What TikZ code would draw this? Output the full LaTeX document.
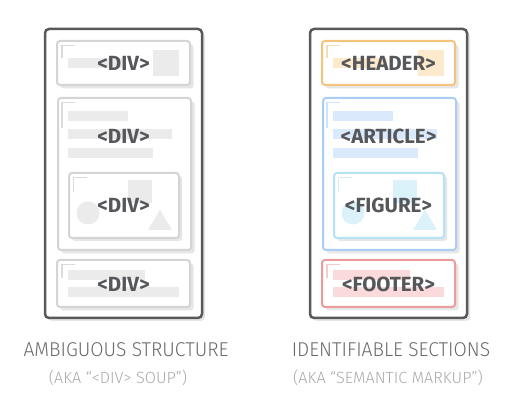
\documentclass[tikz,border=0pt]{standalone}
\usepackage{fontspec}
\setmainfont{Fira Sans}
\newfontfamily\capfont{Fira Sans Light}[FakeStretch=0.96]
\newfontfamily\subfont{Fira Sans Light}
\definecolor{outerc}{HTML}{58595B}
\definecolor{shadowc}{HTML}{E6E6E6}
\definecolor{labelc}{HTML}{55575A}
\definecolor{titlec}{HTML}{6A6A6A}
\definecolor{subc}{HTML}{AAAAAA}
\tikzset{
  outerbox/.style={draw=outerc, line width=2.5pt, fill=white, rounded corners=4pt},
  innerbox/.style={draw=#1, line width=2pt, fill=white, rounded corners=3pt},
  shadowbox/.style={fill=shadowc, rounded corners=3pt},
  cmark/.style={draw=#1, line width=1.2pt},
  lbl/.style={font=\bfseries\fontsize{20.5}{20.5}\selectfont, text=labelc, inner sep=0pt, anchor=base},
  ttl/.style={font=\capfont\fontsize{20}{20}\selectfont, text=titlec, inner sep=0pt, anchor=base},
  subttl/.style={font=\subfont\fontsize{16.2}{16.2}\selectfont, text=subc, inner sep=0pt, anchor=base}
}
\newcommand\drawcolumn[5]{%
  \fill[shadowbox, rounded corners=4pt] (48,32) rectangle (205,321);
  \draw[outerbox] (45,29) rectangle (202,318);
  \fill[shadowbox] (60.5,44.5) rectangle (193.5,88.5);
  \draw[innerbox=hdS] (57,41) rectangle (190,85);
  \draw[cmark=hdM] (62,58) -- (62,45.5) -- (75,45.5);
  \fill[hdF] (68,58) rectangle (122,68);
  \fill[hdF] (153,50) rectangle (179,76);
  \node[lbl] (#5hdr) at (123.5,71) {#1};
  \fill[shadowbox] (61.5,101.5) rectangle (194.5,253.5);
  \draw[innerbox=arS] (58,98) rectangle (191,250);
  \draw[cmark=arM] (62,128) -- (62,102.5) -- (75,102.5);
  \fill[arF] (68,111) rectangle (128,121);
  \fill[arF] (68,129) rectangle (172,139);
  \fill[arF] (68,148) rectangle (153,158);
  \node[lbl] (#5art) at (123.5,144) {#2};
  \fill[shadowbox] (72,176) rectangle (182,241);
  \draw[innerbox=fgS] (69,173) rectangle (179,238);
  \draw[cmark=fgM] (73.5,192) -- (73.5,177.5) -- (87,177.5);
  \fill[fgF] (88,213) circle (11.5);
  \fill[fgF] (128,180) rectangle (152,203);
  \fill[fgF] (148,230) -- (160,210) -- (172,230) -- cycle;
  \node[lbl] (#5fig) at (123.5,213) {#3};
  \fill[shadowbox] (60.5,263.5) rectangle (193.5,310.5);
  \draw[innerbox=ftS] (57,260) rectangle (190,307);
  \draw[cmark=ftM] (62,278) -- (62,264.5) -- (75,264.5);
  \fill[ftF] (68,270) rectangle (145,280);
  \fill[ftF] (68,287) rectangle (179,297);
  \node[lbl] (#5ftr) at (123.5,292) {#4};
}
\begin{document}
\begin{tikzpicture}[x=1pt,y=-1pt]
\useasboundingbox (0,0) rectangle (520,411);
\colorlet{hdS}{black!17}\colorlet{hdM}{black!14}\colorlet{hdF}{black!8}
\colorlet{arS}{black!17}\colorlet{arM}{black!14}\colorlet{arF}{black!8}
\colorlet{fgS}{black!17}\colorlet{fgM}{black!14}\colorlet{fgF}{black!8}
\colorlet{ftS}{black!17}\colorlet{ftM}{black!14}\colorlet{ftF}{black!8}
\drawcolumn{<DIV>}{<DIV>}{<DIV>}{<DIV>}{L}
\definecolor{hdS}{HTML}{F5C47C}\definecolor{hdM}{HTML}{F8DDB4}\definecolor{hdF}{HTML}{FDE9CC}
\definecolor{arS}{HTML}{A9CDF4}\definecolor{arM}{HTML}{CFE3F9}\definecolor{arF}{HTML}{DAEAFC}
\definecolor{fgS}{HTML}{B5E3F5}\definecolor{fgM}{HTML}{D3EEF9}\definecolor{fgF}{HTML}{DCF2FB}
\definecolor{ftS}{HTML}{EC9C9C}\definecolor{ftM}{HTML}{F5CACA}\definecolor{ftF}{HTML}{FADADB}
\begin{scope}[xshift=265]
\drawcolumn{<HEADER>}{<ARTICLE>}{<FIGURE>}{<FOOTER>}{R}
\end{scope}
\node[ttl] (lt) at (126,357) {AMBIGUOUS STRUCTURE};
\node[subttl] (ls) at (118,384) {(AKA “<DIV> SOUP”)};
\node[ttl] (rt) at (391,357) {IDENTIFIABLE SECTIONS};
\node[subttl] (rs) at (388,384) {(AKA “SEMANTIC MARKUP”)};
\end{tikzpicture}
\end{document}
